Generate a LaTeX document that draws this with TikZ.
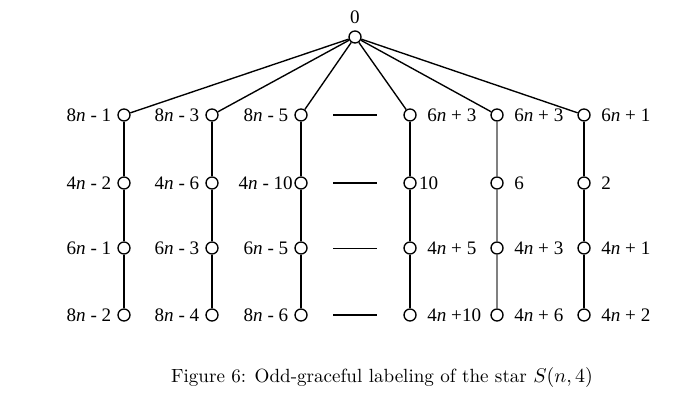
\documentclass[tikz,border=0pt]{standalone}
\usepackage{fontspec}
\newfontfamily\lblfont{Liberation Serif}
\newcommand{\nn}{\textit{n}}

\tikzset{
  vtx/.style={draw,circle,inner sep=0pt,minimum size=6.6pt,fill=white},
  lft/.style={left,inner sep=3pt,font=\lblfont\fontsize{10.5}{12}\selectfont},
  rgt/.style={right,inner sep=5.5pt,font=\lblfont\fontsize{10.5}{12}\selectfont},
}

\begin{document}
\begin{tikzpicture}[x=0.55pt,y=-0.55pt,line width=0.75pt]
	\useasboundingbox (0,0) rectangle (700,408);

	% root
	\node[vtx] (R) at (355,37) {};
	\node[font=\lblfont\fontsize{10.5}{12}\selectfont] (R0) at (355,17) {0};

	% first row
	\node[vtx] (A1) at (124,115) {};
	\node[vtx] (B1) at (212,115) {};
	\node[vtx] (C1) at (301,115) {};
	\node[vtx] (D1) at (410,115) {};
	\node[vtx] (E1) at (497,115) {};
	\node[vtx] (F1) at (584,115) {};
	% second row
	\node[vtx] (A2) at (124,183) {};
	\node[vtx] (B2) at (212,183) {};
	\node[vtx] (C2) at (301,183) {};
	\node[vtx] (D2) at (410,183) {};
	\node[vtx] (E2) at (497,183) {};
	\node[vtx] (F2) at (584,183) {};
	% third row
	\node[vtx] (A3) at (124,248) {};
	\node[vtx] (B3) at (212,248) {};
	\node[vtx] (C3) at (301,248) {};
	\node[vtx] (D3) at (410,248) {};
	\node[vtx] (E3) at (497,248) {};
	\node[vtx] (F3) at (584,248) {};
	% fourth row
	\node[vtx] (A4) at (124,315) {};
	\node[vtx] (B4) at (212,315) {};
	\node[vtx] (C4) at (301,315) {};
	\node[vtx] (D4) at (410,315) {};
	\node[vtx] (E4) at (497,315) {};
	\node[vtx] (F4) at (584,315) {};

	\draw (R) -- (A1); \draw (R) -- (B1); \draw (R) -- (C1);
	\draw (R) -- (D1); \draw (R) -- (E1); \draw (R) -- (F1);
	\draw (A1) -- (A2) -- (A3) -- (A4);
	\draw (B1) -- (B2) -- (B3) -- (B4);
	\draw (C1) -- (C2) -- (C3) -- (C4);
	\draw (D1) -- (D2) -- (D3) -- (D4);
	\draw[gray] (E1) -- (E2) -- (E3) -- (E4);
	\draw (F1) -- (F2) -- (F3) -- (F4);

	% labels
	\node[lft] at (A1.west) {8\nn\ - 1};
	\node[lft] at (B1.west) {8\nn\ - 3};
	\node[lft] at (C1.west) {8\nn\ - 5};
	\node[rgt] at (D1.east) {6\nn\ + 3};
	\node[rgt] at (E1.east) {6\nn\ + 3};
	\node[rgt] at (F1.east) {6\nn\ + 1};
	\node[lft] at (A2.west) {4\nn\ - 2};
	\node[lft] at (B2.west) {4\nn\ - 6};
	\node[lft,inner sep=0.5pt] at (C2.west) {4\nn\ - 10};
	\node[rgt,inner sep=1pt] at (D2.east) {10};
	\node[rgt] at (E2.east) {6};
	\node[rgt] at (F2.east) {2};
	\node[lft] at (A3.west) {6\nn\ - 1};
	\node[lft] at (B3.west) {6\nn\ - 3};
	\node[lft] at (C3.west) {6\nn\ - 5};
	\node[rgt] at (D3.east) {4\nn\ + 5};
	\node[rgt] at (E3.east) {4\nn\ + 3};
	\node[rgt] at (F3.east) {4\nn\ + 1};
	\node[lft] at (A4.west) {8\nn\ - 2};
	\node[lft] at (B4.west) {8\nn\ - 4};
	\node[lft] at (C4.west) {8\nn\ - 6};
	\node[rgt] at (D4.east) {4\nn\ +10};
	\node[rgt] at (E4.east) {4\nn\ + 6};
	\node[rgt] at (F4.east) {4\nn\ + 2};

	% dashes between the columns
	\coordinate (s1) at (333,115); \coordinate (t1) at (377,115);
	\coordinate (s2) at (333,183); \coordinate (t2) at (377,183);
	\coordinate (s3) at (333,248); \coordinate (t3) at (377,248);
	\coordinate (s4) at (333,315); \coordinate (t4) at (377,315);
	\draw (s1) -- (t1); \draw (s2) -- (t2);
	\draw[line width=0.45pt] (s3) -- (t3); \draw (s4) -- (t4);

	\node[font=\fontsize{10.5}{12}\selectfont] (cap) at (382,378) {Figure 6: Odd-graceful labeling of the star $S(n,4)$};
\end{tikzpicture}
\end{document}
